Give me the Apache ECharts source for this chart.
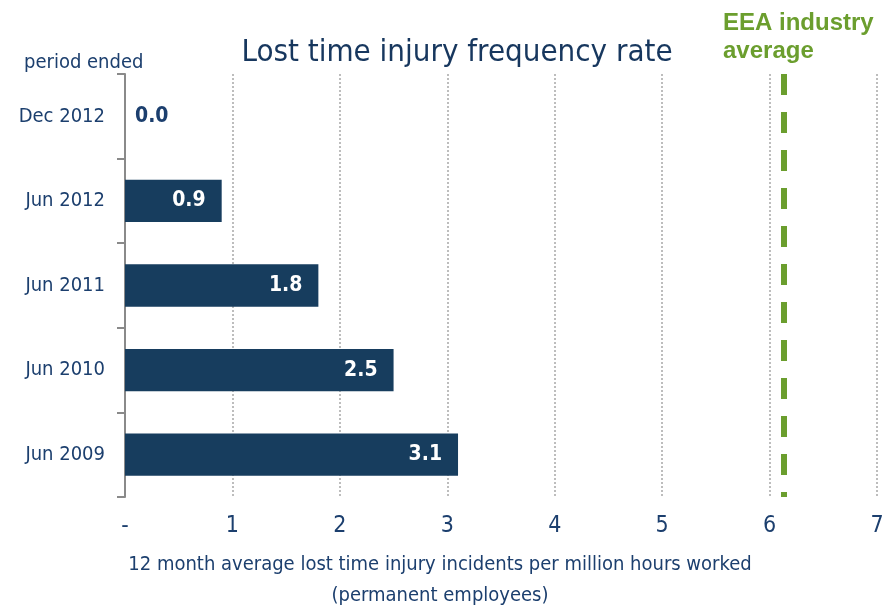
<!DOCTYPE html>
<html>
<head>
<meta charset="utf-8">
<script src="https://cdn.jsdelivr.net/npm/echarts@6/dist/echarts.min.js"></script>
<style>
  html, body { margin: 0; padding: 0; background: #fff; }
  #chart { width: 886px; height: 610px; }
</style>
</head>
<body>
<div id="chart"></div>
<script>
var periods = ['Dec 2012', 'Jun 2012', 'Jun 2011', 'Jun 2010', 'Jun 2009'];
var ltifr = [0.0, 0.9, 1.8, 2.5, 3.1];
var industryAverage = 6.13;
var xTicks = [0, 1, 2, 3, 4, 5, 6, 7];

var navy = '#173d5e';
var textNavy = '#1c3f6e';
var green = '#6b9e2e';
var narrow = '"Liberation Sans Narrow", "DejaVu Sans Condensed", sans-serif';

var chart = echarts.init(document.getElementById('chart'));

var option = {
    backgroundColor: '#fff',
    animation: false,
    title: [{
        text: 'Lost time injury frequency rate',
        left: 452,
        top: 32,
        textAlign: 'center',
        textStyle: { color: '#17375e', fontSize: 31, fontWeight: 'normal', fontFamily: narrow }
    }, {
        text: 'period ended',
        left: 19,
        top: 48,
        textStyle: { color: textNavy, fontSize: 20, fontWeight: 'normal', fontFamily: narrow }
    }, {
        text: 'EEA industry\naverage',
        left: 718,
        top: 4,
        textStyle: { color: green, fontSize: 24, fontWeight: 'bold', lineHeight: 28, fontFamily: '"Liberation Sans", Arial, sans-serif' }
    }],
    grid: { left: 125, right: 9, top: 74, bottom: 113, outerBoundsMode: 'none', containLabel: false },
    xAxis: {
        type: 'value',
        min: xTicks[0],
        max: xTicks[xTicks.length - 1],
        interval: 1,
        name: '12 month average lost time injury incidents per million hours worked\n(permanent employees)',
        nameLocation: 'middle',
        nameGap: 52,
        // title sits left of the plot centre in the original
        nameTextStyle: { color: textNavy, fontSize: 20, lineHeight: 31, fontFamily: narrow, padding: [0, 122, 0, 0] },
        axisLine: { show: false },
        axisTick: { show: false },
        axisLabel: {
            color: textNavy,
            fontSize: 23,
            margin: 18,
            fontFamily: narrow,
            formatter: function (v) { return v === 0 ? '-' : String(v); }
        },
        splitLine: { show: true, lineStyle: { color: '#bdbdbd', type: 'dotted', width: 2 } }
    },
    yAxis: {
        type: 'category',
        inverse: true,
        data: periods,
        axisLine: { show: true, lineStyle: { color: '#8a8a8a', width: 2 } },
        axisTick: { show: true, length: 8, lineStyle: { color: '#8a8a8a', width: 2 } },
        axisLabel: { color: textNavy, fontSize: 20, margin: 20, fontFamily: narrow }
    },
    series: [{
        type: 'bar',
        data: ltifr.map(function (v) {
            if (v === 0) {
                return { value: v, label: { position: 'right', color: textNavy, distance: 10 } };
            }
            return v;
        }),
        barWidth: '50%',
        itemStyle: { color: navy },
        label: {
            show: true,
            position: 'insideRight',
            distance: 16,
            color: '#fff',
            fontSize: 21,
            fontWeight: 'bold',
            fontFamily: narrow,
            formatter: function (p) { return p.value.toFixed(1); }
        },
        markLine: {
            silent: true,
            symbol: 'none',
            label: { show: false },
            lineStyle: { color: green, width: 6, type: [21, 17] },
            data: [{ xAxis: industryAverage }]
        }
    }]
};

chart.setOption(option);
</script>
</body>
</html>
